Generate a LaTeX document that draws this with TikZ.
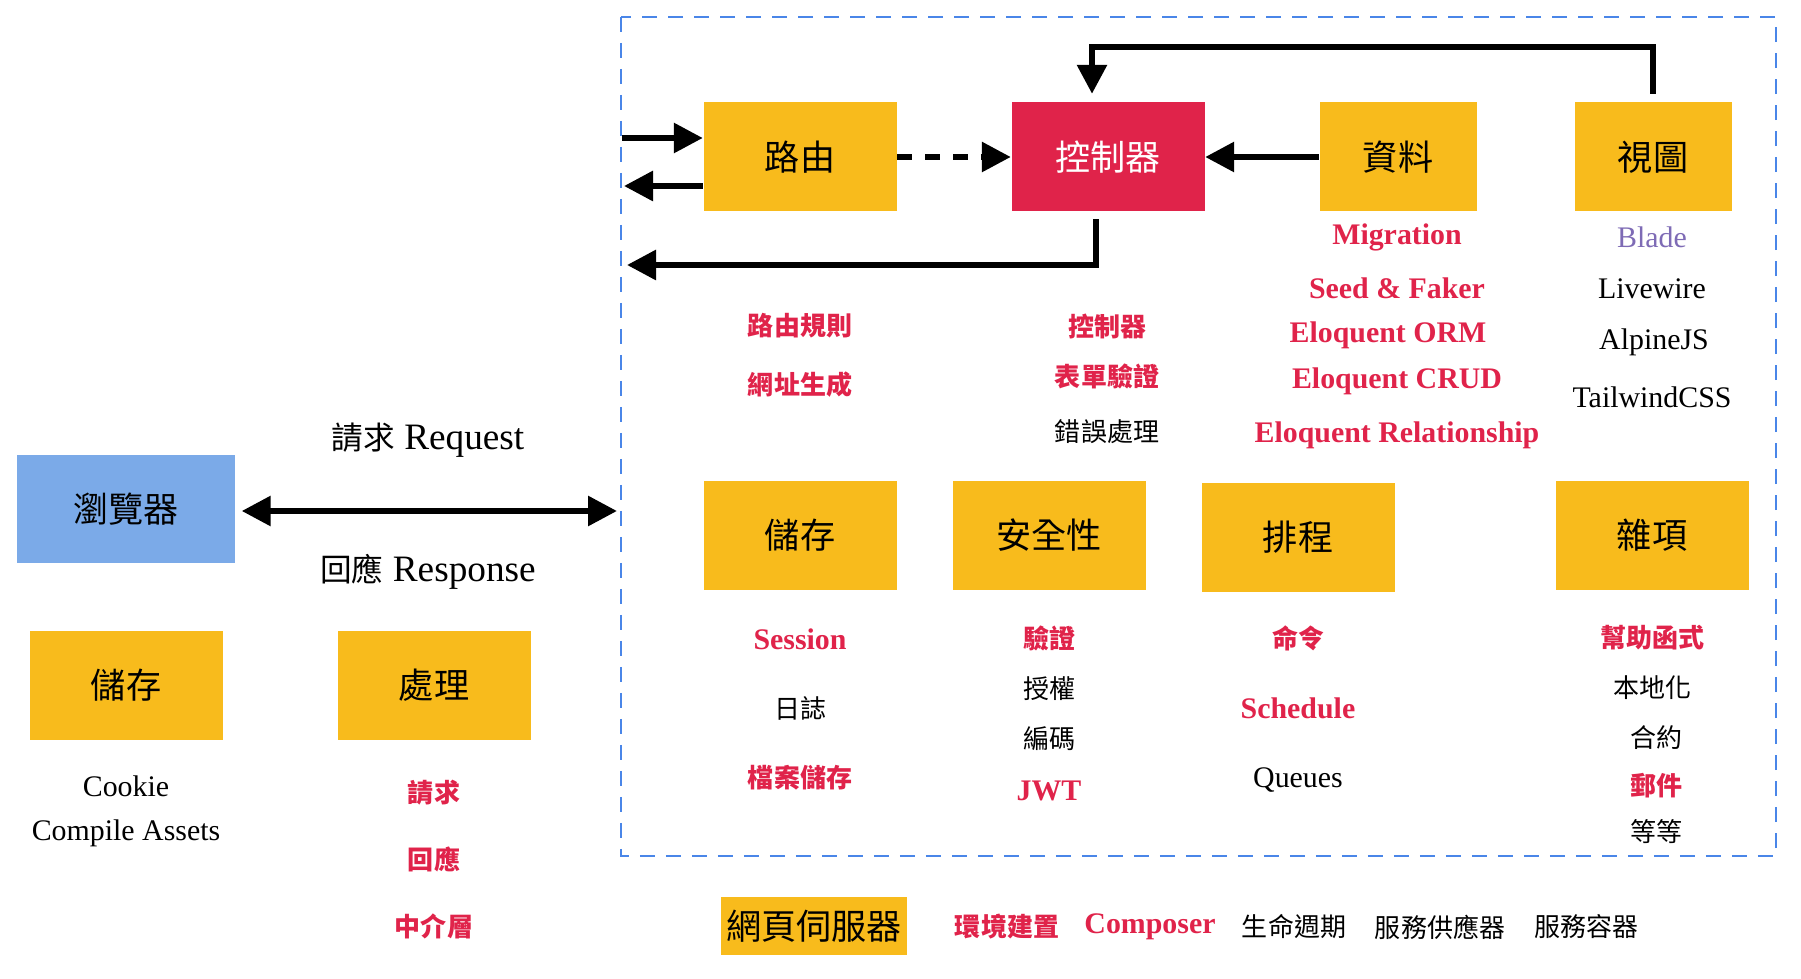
\documentclass[tikz,border=0pt]{standalone}
\usepackage{fontspec}
\setmainfont{Liberation Serif}
\newfontfamily\cjk{Noto Sans CJK TC}
\usetikzlibrary{arrows.meta}

\definecolor{boxyellow}{HTML}{F8BB1C}
\definecolor{hotred}{HTML}{E0234A}
\definecolor{browserblue}{HTML}{7BAAE8}
\definecolor{frameblue}{HTML}{4A86E8}
\definecolor{bladepurple}{HTML}{7E6BB5}

\begin{document}
\begin{tikzpicture}[>={Triangle[length=0.29cm, width=0.29cm]},
    box/.style={fill=boxyellow, minimum width=1.93cm, minimum height=1.09cm,
        inner sep=0pt, font=\cjk\fontsize{10}{12}\selectfont},
    flow/.style={line width=0.06cm, ->},
    word/.style={inner sep=1pt, font=\fontsize{8.5}{10}\selectfont},
    hot/.style={word, text=hotred, font=\fontsize{8.5}{10}\selectfont\bfseries},
    zh/.style={inner sep=1pt, font=\cjk\fontsize{7.4}{9}\selectfont},
    hotzh/.style={zh, text=hotred, font=\cjk\bfseries\fontsize{7.4}{9}\selectfont}]

    % The page is 18.01 x 9.79, one pixel of the reference being 0.01
    \useasboundingbox (0,0) rectangle (18.01,-9.79);

    % Server side, inside the dashed frame
    \draw[frameblue, line width=0.022cm, dash pattern=on 0.15cm off 0.11cm]
        (6.21,-0.17) rectangle (17.76,-8.56);

    % Top row
    \node[box] (router) at (8.00,-1.57) {路由};
    \node[box, fill=hotred, text=white] (ctrl) at (11.08,-1.57) {控制器};
    \node[box, minimum width=1.57cm] (data) at (13.98,-1.57) {資料};
    \node[box, minimum width=1.57cm] (view) at (16.53,-1.57) {視圖};

    % Bottom row
    \node[box] (store) at (8.00,-5.35) {儲存};
    \node[box] (secure) at (10.49,-5.35) {安全性};
    \node[box] (sched) at (12.98,-5.37) {排程};
    \node[box] (misc) at (16.52,-5.35) {雜項};

    % Where the arrows meet the frame
    \coordinate (inR) at (6.22,-1.38);
    \coordinate (outR) at (6.24,-1.86);
    \coordinate (back) at (6.27,-2.65);

    \draw[flow] (inR) -- (router.west |- inR);
    \draw[flow] (router.west |- outR) -- (outR);
    \draw[flow, dash pattern=on 0.15cm off 0.13cm] (router) -- (ctrl);
    \draw[flow] (data) -- (ctrl);
    \draw[flow] ([yshift=0.08cm]view.north) -- ++(0,0.47)
        -| ([xshift=-0.16cm, yshift=0.08cm]ctrl.north);
    \draw[flow] ([xshift=-0.12cm, yshift=-0.07cm]ctrl.south) |- (back);

    % What each part covers
    \node[hotzh] (rules) at (8.00,-3.26) {路由規則};
    \node[hotzh] (urlgen) at (8.00,-3.85) {網址生成};
    \node[hotzh] (ctrltxt) at (11.07,-3.26) {控制器};
    \node[hotzh] (form) at (11.07,-3.76) {表單驗證};
    \node[zh] (errs) at (11.07,-4.32) {錯誤處理};

    \node[hot] (mig) at (13.97,-2.37) {Migration};
    \node[hot] (seed) at (13.97,-2.88) {Seed \& Faker};
    \node[hot] (orm) at (13.88,-3.35) {Eloquent ORM};
    \node[hot] (crud) at (13.97,-3.81) {Eloquent CRUD};
    \node[hot] (rel) at (13.97,-4.35) {Eloquent Relationship};

    \node[word, text=bladepurple] (blade) at (16.52,-2.37) {Blade};
    \node[word] (livewire) at (16.52,-2.89) {Livewire};
    \node[word] (alpine) at (16.54,-3.42) {AlpineJS};
    \node[word] (tailwind) at (16.52,-3.97) {TailwindCSS};

    \node[hot] (session) at (8.00,-6.39) {Session};
    \node[zh] (logs) at (8.00,-7.08) {日誌};
    \node[hotzh] (files) at (8.00,-7.78) {檔案儲存};

    \node[hotzh] (authn) at (10.49,-6.38) {驗證};
    \node[zh] (authz) at (10.49,-6.89) {授權};
    \node[zh] (encode) at (10.49,-7.39) {編碼};
    \node[hot] (jwt) at (10.49,-7.91) {JWT};

    \node[hotzh] (cmds) at (12.98,-6.38) {命令};
    \node[hot] (schedtxt) at (12.98,-7.08) {Schedule};
    \node[word] (queues) at (12.98,-7.80) {Queues};

    \node[hotzh] (helpers) at (16.52,-6.38) {幫助函式};
    \node[zh] (locale) at (16.52,-6.88) {本地化};
    \node[zh] (contracts) at (16.56,-7.38) {合約};
    \node[hotzh] (mail) at (16.56,-7.86) {郵件};
    \node[zh] (etc) at (16.56,-8.32) {等等};

    % Web server and what goes with it
    \node[box, minimum width=1.86cm, minimum height=0.58cm] (server) at (8.14,-9.26) {網頁伺服器};
    \node[hotzh] (env) at (10.07,-9.27) {環境建置};
    \node[hot] (composer) at (11.50,-9.27) {Composer};
    \node[zh] (life) at (12.94,-9.27) {生命週期};
    \node[zh] (provider) at (14.40,-9.27) {服務供應器};
    \node[zh] (container) at (15.86,-9.27) {服務容器};

    % Client side
    \node[box, fill=browserblue, minimum width=2.18cm, minimum height=1.08cm] (browser) at (1.26,-5.09) {瀏覽器};
    \coordinate (srv) at (6.17,-5.11);
    \draw[line width=0.06cm, <->] ([xshift=0.06cm]browser.east |- srv) -- (srv);
    \node[font=\fontsize{10.6}{12}\selectfont] (request) at (4.28,-4.40)
        {{\cjk\fontsize{9}{12}\selectfont 請求} Request};
    \node[font=\fontsize{10.6}{12}\selectfont] (response) at (4.28,-5.72)
        {{\cjk\fontsize{9}{12}\selectfont 回應} Response};

    \node[box] (cstore) at (1.26,-6.85) {儲存};
    \node[box] (handle) at (4.34,-6.85) {處理};
    \node[word] (cookie) at (1.26,-7.86) {Cookie};
    \node[word] (assets) at (1.26,-8.33) {Compile Assets};
    \node[hotzh] (req) at (4.34,-7.93) {請求};
    \node[hotzh] (res) at (4.34,-8.59) {回應};
    \node[hotzh] (middle) at (4.34,-9.26) {中介層};

\end{tikzpicture}
\end{document}
